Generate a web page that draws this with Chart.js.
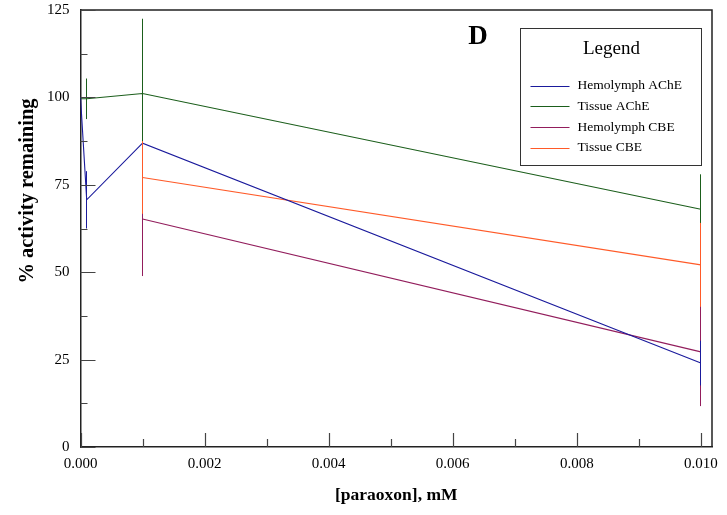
<!DOCTYPE html>
<html>
<head>
<meta charset="utf-8">
<script src="https://cdn.jsdelivr.net/npm/chart.js@4/dist/chart.umd.min.js"></script>
<style>
  html, body { margin: 0; padding: 0; background: #fff; }
  #wrap { width: 727px; height: 515px; }
</style>
</head>
<body>
<div id="wrap"><canvas id="chart" width="727" height="515"></canvas></div>
<script>
// paraoxon concentrations (mM)
const concentrations = [0, 0.0001, 0.001, 0.01];

// % activity remaining, with error bar half-lengths
const hemoAChE = [100, 70.7, 86.9, 24.0];
const hemoAChEErr = [0, 8.2, 0, 6.4];
const tissueAChE = [99.6, 99.6, 101.1, 68.0];
const tissueAChEErr = [0, 5.8, 21.4, 10.0];
const hemoCBE = [null, null, 65.2, 27.2];
const hemoCBEErr = [0, 0, 16.3, 15.5];
const tissueCBE = [null, null, 77.1, 52.1];
const tissueCBEErr = [0, 0, 10.4, 12.0];

const seriesNames = ["Hemolymph AChE", "Tissue AChE", "Hemolymph CBE", "Tissue CBE"];

const xMajorTicks = [0, 0.002, 0.004, 0.006, 0.008, 0.010];
const xMinorTicks = [0.001, 0.003, 0.005, 0.007, 0.009];
const yMajorTicks = [0, 25, 50, 75, 100, 125];
const yMinorTicks = [12.5, 37.5, 62.5, 87.5, 112.5];

const serif = "'Liberation Serif', 'DejaVu Serif', serif";

function toPoints(values) {
  var pts = [];
  for (var i = 0; i < concentrations.length; i++) {
    if (values[i] !== null) pts.push({ x: concentrations[i], y: values[i] });
  }
  return pts;
}

function makeSet(label, values, errs, color) {
  return {
    label: label,
    data: toPoints(values),
    errors: errs,
    values: values,
    borderColor: color,
    backgroundColor: color,
    borderWidth: 1.1,
    pointRadius: 0,
    showLine: true,
    tension: 0
  };
}

// error bars, drawn with the chart's own scales
const errorBars = {
  id: "errorBars",
  afterDatasetsDraw(chart) {
    const ctx = chart.ctx;
    const xs = chart.scales.x, ys = chart.scales.y;
    const order = [1, 2, 3, 0];
    ctx.save();
    order.forEach(function (d) {
      const ds = chart.data.datasets[d];
      ctx.strokeStyle = ds.borderColor;
      ctx.lineWidth = 1;
      for (var i = 0; i < concentrations.length; i++) {
        if (ds.values[i] === null || !ds.errors[i]) continue;
        const px = Math.floor(xs.getPixelForValue(concentrations[i])) + 0.5;
        ctx.beginPath();
        ctx.moveTo(px, ys.getPixelForValue(ds.values[i] + ds.errors[i]));
        ctx.lineTo(px, ys.getPixelForValue(ds.values[i] - ds.errors[i]));
        ctx.stroke();
      }
    });
    ctx.restore();
  }
};

// frame + inward tick marks, legend box, panel letter, y title
const decorations = {
  id: "decorations",
  afterDraw(chart) {
    const ctx = chart.ctx;
    const a = chart.chartArea;
    const xs = chart.scales.x, ys = chart.scales.y;
    ctx.save();
    ctx.strokeStyle = "#222";
    ctx.lineWidth = 1.5;
    ctx.beginPath();
    ctx.moveTo(a.left, a.top);
    ctx.lineTo(a.right, a.top);
    ctx.lineTo(a.right, a.bottom);
    ctx.stroke();

    ctx.lineWidth = 1.2;
    ctx.strokeStyle = "#444";
    ctx.beginPath();
    yMajorTicks.forEach(function (v) {
      const py = Math.round(ys.getPixelForValue(v)) + 0.5;
      ctx.moveTo(a.left, py); ctx.lineTo(a.left + 15, py);
    });
    yMinorTicks.forEach(function (v) {
      const py = Math.round(ys.getPixelForValue(v)) + 0.5;
      ctx.moveTo(a.left, py); ctx.lineTo(a.left + 7, py);
    });
    xMajorTicks.forEach(function (v) {
      const px = Math.round(xs.getPixelForValue(v)) + 0.5;
      ctx.moveTo(px, a.bottom); ctx.lineTo(px, a.bottom - 14);
    });
    xMinorTicks.forEach(function (v) {
      const px = Math.round(xs.getPixelForValue(v)) + 0.5;
      ctx.moveTo(px, a.bottom); ctx.lineTo(px, a.bottom - 8);
    });
    ctx.stroke();

    // legend box
    const bx = a.right - 191.5, by = a.top + 18.5, bw = 181, bh = 137;
    ctx.fillStyle = "#fff";
    ctx.fillRect(bx, by, bw, bh);
    ctx.strokeStyle = "#333";
    ctx.lineWidth = 1;
    ctx.strokeRect(bx, by, bw, bh);
    ctx.fillStyle = "#000";
    ctx.textAlign = "center";
    ctx.textBaseline = "middle";
    ctx.font = "19px " + serif;
    ctx.fillText("Legend", bx + 91, by + 21);
    ctx.font = "13.5px " + serif;
    ctx.textAlign = "left";
    chart.data.datasets.forEach(function (ds, i) {
      const ly = by + 57 + i * 20.8;
      ctx.strokeStyle = ds.borderColor;
      ctx.lineWidth = 1.2;
      ctx.beginPath();
      ctx.moveTo(bx + 10, Math.round(ly) + 0.5);
      ctx.lineTo(bx + 49, Math.round(ly) + 0.5);
      ctx.stroke();
      ctx.fillStyle = "#000";
      ctx.fillText(ds.label, bx + 57, ly);
    });

    // panel letter
    ctx.font = "bold 27px " + serif;
    ctx.textAlign = "center";
    ctx.fillText("D", 478, 37);

    // y axis title
    ctx.translate(28, 191);
    ctx.rotate(-Math.PI / 2);
    ctx.font = "bold 20.5px " + serif;
    ctx.fillText("% activity remaining", 0, 0);
    ctx.restore();
  }
};

new Chart(document.getElementById("chart"), {
  type: "scatter",
  data: {
    datasets: [
      makeSet(seriesNames[0], hemoAChE, hemoAChEErr, "#1a1a9c"),
      makeSet(seriesNames[1], tissueAChE, tissueAChEErr, "#1b5e1b"),
      makeSet(seriesNames[2], hemoCBE, hemoCBEErr, "#921d5c"),
      makeSet(seriesNames[3], tissueCBE, tissueCBEErr, "#ff5a28")
    ]
  },
  plugins: [errorBars, decorations],
  options: {
    responsive: false,
    animation: false,
    layout: { padding: { left: 0, top: 10, right: 15, bottom: 0 } },
    plugins: {
      legend: { display: false },
      tooltip: { enabled: false }
    },
    scales: {
      x: {
        type: "linear",
        min: 0,
        max: 0.01018,
        afterBuildTicks: function (scale) {
          scale.ticks = xMajorTicks.map(function (v) { return { value: v }; });
        },
        afterFit: function (scale) {
          scale.height = 68;
          scale.paddingLeft = 0;
          scale.paddingRight = 0;
        },
        grid: { display: false, drawTicks: false },
        border: { display: true, color: "#222", width: 1.5 },
        ticks: {
          color: "#000",
          font: { family: serif, size: 15 },
          padding: 8,
          maxRotation: 0,
          autoSkip: false,
          callback: function (v) { return Number(v).toFixed(3); }
        },
        title: {
          display: true,
          text: "[paraoxon], mM",
          color: "#000",
          font: { family: serif, size: 17.5, weight: "bold" },
          padding: { top: 4, bottom: 9 }
        }
      },
      y: {
        min: 0,
        max: 125,
        afterBuildTicks: function (scale) {
          scale.ticks = yMajorTicks.map(function (v) { return { value: v }; });
        },
        afterFit: function (scale) {
          scale.width = 80.5;
          scale.paddingTop = 0;
          scale.paddingBottom = 0;
        },
        grid: { display: false, drawTicks: false },
        border: { display: true, color: "#222", width: 1.5 },
        ticks: {
          color: "#000",
          font: { family: serif, size: 15 },
          padding: 11
        },
        title: { display: false }
      }
    }
  }
});
</script>
</body>
</html>
